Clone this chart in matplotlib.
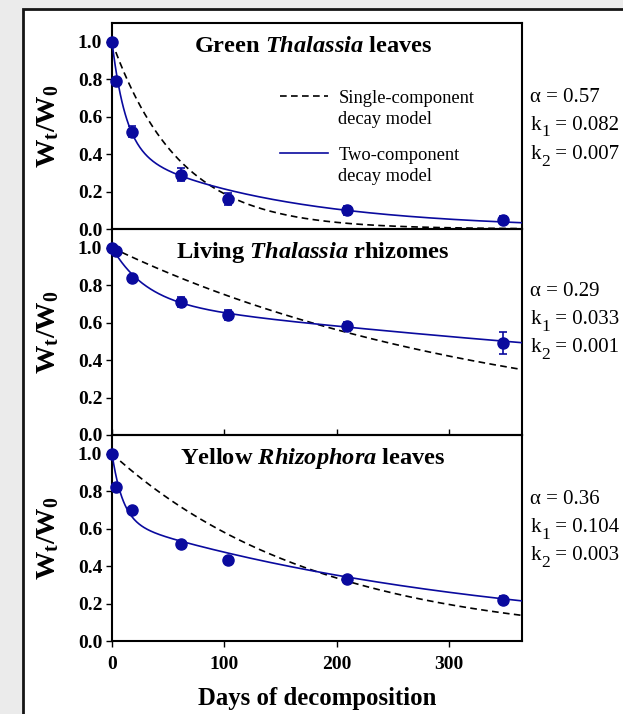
import numpy as np
import matplotlib
matplotlib.use("Agg")
import matplotlib.pyplot as plt
from matplotlib.patches import Rectangle

plt.rcParams['font.family'] = ['Liberation Serif', 'DejaVu Serif']
plt.rcParams['mathtext.fontset'] = 'custom'
plt.rcParams['mathtext.rm'] = 'Liberation Serif'
plt.rcParams['mathtext.it'] = 'Liberation Serif:italic'
plt.rcParams['mathtext.bf'] = 'Liberation Serif:bold'
plt.rcParams['mathtext.bfit'] = 'Liberation Serif:italic:bold'

# ---------------- data ----------------
days = [0, 4, 18, 61, 103, 209, 348]

titles = [r"Green $\mathbfit{Thalassia}$ leaves",
          r"Living $\mathbfit{Thalassia}$ rhizomes",
          r"Yellow $\mathbfit{Rhizophora}$ leaves"]

green_vals = [1.00, 0.79, 0.52, 0.29, 0.16, 0.10, 0.05]
green_err = [0.00, 0.01, 0.03, 0.035, 0.03, 0.025, 0.02]
rhizome_vals = [1.00, 0.98, 0.84, 0.71, 0.64, 0.58, 0.49]
rhizome_err = [0.00, 0.01, 0.01, 0.025, 0.025, 0.025, 0.06]
yellow_vals = [1.00, 0.82, 0.70, 0.52, 0.43, 0.33, 0.22]
yellow_err = [0.00, 0.02, 0.01, 0.015, 0.015, 0.015, 0.02]

alphas = [0.57, 0.29, 0.36]
k1s = [0.082, 0.033, 0.104]
k2s = [0.007, 0.001, 0.003]
k_single = [0.0167, 0.00288, 0.00545]   # single-component decay constants

alpha_txt = ["0.57", "0.29", "0.36"]
k1_txt = ["0.082", "0.033", "0.104"]
k2_txt = ["0.007", "0.001", "0.003"]

legend_labels = ['Single-component\ndecay model', 'Two-component\ndecay model']

yticks = [0.0, 0.2, 0.4, 0.6, 0.8, 1.0]
xticks = [0, 100, 200, 300]

series = [(green_vals, green_err), (rhizome_vals, rhizome_err), (yellow_vals, yellow_err)]

# ---------------- figure ----------------
W, H = 623, 714
fig = plt.figure(figsize=(W / 100, H / 100), dpi=100)
fig.patch.set_facecolor('#ebebeb')
fig.patches.append(Rectangle((23 / W, -0.05), 1.2, (H - 8.5) / H + 0.05,
                             transform=fig.transFigure, facecolor='white',
                             edgecolor='#151515', linewidth=2.0, zorder=-5))

blue = '#0a0a9e'
left = 112 / W
width = 410 / W
ph = 206 / H
bottoms = [1 - 229 / H, 1 - 435 / H, 1 - 641 / H]

t = np.linspace(0, 365, 500)
ann_y = [(0.617, 0.481, 0.340), (0.675, 0.539, 0.403), (0.665, 0.529, 0.393)]


def k_label(ax, x, y, sub, value):
    tk = ax.text(x, y, "k", transform=ax.transAxes, ha='left', va='baseline', fontsize=15)
    ts = ax.annotate(sub, xy=(1, 0), xycoords=tk, xytext=(0.2, -4.0),
                     textcoords='offset points', ha='left', va='bottom', fontsize=12.5)
    ax.annotate(" = " + value, xy=(1, 0), xycoords=(ts, tk), xytext=(0, 0),
                textcoords='offset points', ha='left', va='bottom', fontsize=15)


axes = []
for i in range(3):
    ax = fig.add_axes([left, bottoms[i], width, ph])
    ax.set_zorder(1)
    ax.patch.set_alpha(0)
    axes.append(ax)
    vals, err = series[i]
    two = alphas[i] * np.exp(-k1s[i] * t) + (1 - alphas[i]) * np.exp(-k2s[i] * t)
    one = np.exp(-k_single[i] * t)
    l1, = ax.plot(t, one, color='black', linestyle=(0, (4, 2.6)), linewidth=1.2,
                  label=legend_labels[0], zorder=3)
    l2, = ax.plot(t, two, color=blue, linewidth=1.2,
                  label=legend_labels[1], zorder=3)
    ax.errorbar(days, vals, yerr=err, fmt='o', color=blue, markersize=8,
                elinewidth=1.2, capsize=3, capthick=1.2, zorder=4, clip_on=False)
    ax.set_xlim(0, 365)
    ax.set_ylim(0, 1.1)
    ax.set_yticks(yticks)
    ax.set_yticklabels([f"{v:.1f}" for v in yticks], fontweight='bold', fontsize=14)
    ax.tick_params(axis='y', direction='out', length=4, width=1, pad=3)
    for s in ax.spines.values():
        s.set_linewidth(1.5)
    ax.set_ylabel(r"$\mathbf{W_t/W_0}$", fontsize=20.5)
    ax.yaxis.set_label_coords(-0.125, 0.5)
    ax.text(0.49, 0.885, titles[i], transform=ax.transAxes, ha='center', va='center',
            fontsize=17.6, fontweight='bold')
    ya, yk1, yk2 = ann_y[i]
    ax.text(1.02, ya, "α = " + alpha_txt[i], transform=ax.transAxes, ha='left',
            va='baseline', fontsize=15)
    k_label(ax, 1.02, yk1, "1", k1_txt[i])
    k_label(ax, 1.02, yk2, "2", k2_txt[i])
    if i == 0:
        ax.set_xticks([])
        leg = ax.legend(handles=[l1, l2], loc='upper left', bbox_to_anchor=(0.41, 0.675),
                        frameon=False, fontsize=13.3, handlelength=2.6,
                        handletextpad=0.55, labelspacing=1.05, borderpad=0,
                        borderaxespad=0)
        for txt in leg.get_texts():
            txt.set_linespacing(1.3)
        for hl in leg.legend_handles:
            yd = np.asarray(hl.get_ydata(), dtype=float)
            hl.set_ydata(yd + 9.5)
    elif i == 1:
        ax.set_xticks(xticks)
        ax.tick_params(axis='x', direction='in', length=4, width=1, labelbottom=False)
    else:
        ax.set_xticks(xticks)
        ax.set_xticklabels([str(v) for v in xticks], fontweight='bold', fontsize=14)
        ax.tick_params(axis='x', direction='out', length=4, width=1, pad=7)
        ax.set_xlabel("Days of decomposition", fontsize=17.8, fontweight='bold',
                      labelpad=10)

fig.savefig('out.png', dpi=100, facecolor=fig.get_facecolor())
